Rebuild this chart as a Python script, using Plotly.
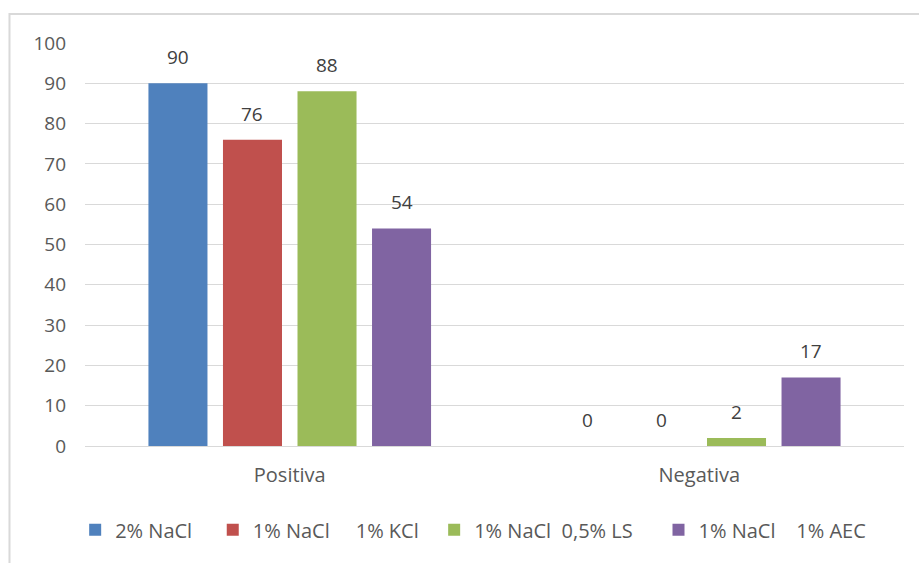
import plotly.graph_objects as go

# Categories and series values
categories = ["Positiva", "Negativa"]
series_names = [
    "2% NaCl",
    "1% NaCl\u00a0\u00a0\u00a0\u00a0 1% KCl",
    "1% NaCl\u00a0 0,5% LS",
    "1% NaCl\u00a0\u00a0\u00a0 1% AEC",
]
series_values = [
    [90, 0],
    [76, 0],
    [88, 2],
    [54, 17],
]
series_colors = ["#4F81BD", "#C0504D", "#9BBB59", "#8064A2"]
y_ticks = [0, 10, 20, 30, 40, 50, 60, 70, 80, 90, 100]

FONT = "Open Sans"
W, H = 919, 563
M_L, M_R, M_T, M_B = 85, 15, 43, 117
BARGAP = 0.272
BARGROUPGAP = 0.208
# extra room after each legend entry
legend_pad = [3, 2, 4, 0]

fig = go.Figure()
for name, vals, color, pad in zip(series_names, series_values, series_colors, legend_pad):
    fig.add_trace(go.Bar(
        x=categories, y=vals, name=name + "\u00a0" * pad,
        marker=dict(color=color, line=dict(width=0)),
    ))

# Value labels above each bar, offset to the centre of its slot in the group
plot_w = W - M_L - M_R
n = len(series_values)
slot = plot_w / len(categories) * (1 - BARGAP) / n
annotations = []
for i, vals in enumerate(series_values):
    dx = (i - (n - 1) / 2) * slot
    for cat, v in zip(categories, vals):
        annotations.append(dict(
            x=cat, y=v, xref="x", yref="y", text=str(v), showarrow=False,
            xshift=dx, yshift=26, yanchor="middle",
            font=dict(family=FONT, size=19, color="#404040"),
        ))

fig.update_layout(
    width=W, height=H,
    margin=dict(l=M_L, r=M_R, t=M_T, b=M_B),
    paper_bgcolor="white", plot_bgcolor="white",
    barmode="group", bargap=BARGAP, bargroupgap=BARGROUPGAP,
    font=dict(family=FONT, size=19, color="#595959"),
    annotations=annotations,
    legend=dict(
        orientation="h", x=-0.012, y=-0.208, xanchor="left", yanchor="middle",
        font=dict(family=FONT, size=20, color="#595959"),
        itemclick=False,
    ),
    shapes=[dict(
        type="rect", xref="paper", yref="paper",
        x0=-0.0922, x1=1.04, y0=-0.34, y1=1.072,
        line=dict(color="#D9D9D9", width=2), fillcolor="rgba(0,0,0,0)",
        layer="below",
    )],
)
fig.update_yaxes(
    range=[0, 100], tickvals=y_ticks, showgrid=True, gridcolor="#D9D9D9",
    gridwidth=1, zeroline=True, zerolinecolor="#D9D9D9", zerolinewidth=1,
    showline=False, ticks="", ticklabelstandoff=18,
    tickfont=dict(family=FONT, size=19, color="#595959"),
)
fig.update_xaxes(
    showline=False, ticks="", ticklabelstandoff=15,
    tickfont=dict(family=FONT, size=20, color="#595959"),
)

fig.write_html("out.html")
